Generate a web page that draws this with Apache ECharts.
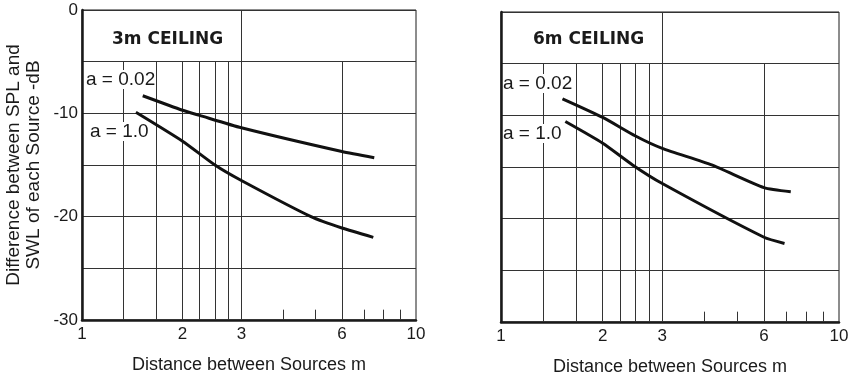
<!DOCTYPE html>
<html>
<head>
<meta charset="utf-8">
<script src="https://cdn.jsdelivr.net/npm/echarts@6/dist/echarts.min.js"></script>
<style>
  html, body { margin: 0; padding: 0; background: #fff; }
  #main { width: 854px; height: 373px; }
</style>
</head>
<body>
<div id="main"></div>
<script>
// distance between sources (m) vs difference SPL - SWL (dB)
var x3_a002 = [1.52, 2, 2.25, 3, 6, 7.5];
var y3_a002 = [-8.3, -9.7, -10.2, -11.4, -13.7, -14.3];
var x3_a1 = [1.45, 2, 2.5, 3, 4.85, 6, 7.45];
var y3_a1 = [-9.9, -12.7, -15.0, -16.5, -20.0, -21.1, -22.0];
var x6_a002 = [1.52, 2, 2.5, 3, 4.2, 6, 7.2];
var y6_a002 = [-8.4, -10.2, -12.0, -13.2, -14.8, -17.0, -17.4];
var x6_a1 = [1.55, 2, 2.45, 3, 6, 6.9];
var y6_a1 = [-10.6, -12.7, -14.8, -16.6, -21.8, -22.4];

var xLabels = [1, 2, 3, 6, 10];
var gridX = [1.33, 1.67, 2, 2.25, 2.5, 2.75, 6]; // these start at -5
var fullX = [3];                                  // full height
var tickX = [4, 5, 7, 8, 9];                      // short ticks on the bottom
var titles = ["3m CEILING", "6m CEILING"];
var seriesNames = ["a = 0.02", "a = 1.0"];

var FONT = "Liberation Sans";
var INK = "#1a1a1a";

function pairs(xs, ys) {
  var out = [];
  for (var i = 0; i < xs.length; i++) out.push([xs[i], ys[i]]);
  return out;
}

function gridMarks() {
  var d = [];
  gridX.forEach(function (x) { d.push([{ coord: [x, -5] }, { coord: [x, -30] }]); });
  fullX.forEach(function (x) { d.push([{ coord: [x, 0] }, { coord: [x, -30] }]); });
  tickX.forEach(function (x) { d.push([{ coord: [x, -29] }, { coord: [x, -30] }]); });
  return {
    silent: true,
    symbol: "none",
    animation: false,
    label: { show: false },
    lineStyle: { type: "solid", color: "#333", width: 1 },
    emphasis: { disabled: true },
    data: d
  };
}

function xAxisFor(idx) {
  return {
    gridIndex: idx,
    type: "log",
    logBase: 10,
    min: 1,
    max: 10,
    name: "Distance between Sources m",
    nameLocation: "middle",
    nameGap: 36,
    nameTextStyle: { fontFamily: FONT, fontSize: 18, color: INK },
    axisLine: { show: true, onZero: false, lineStyle: { color: INK, width: 2.5 } },
    axisTick: { show: false },
    splitLine: { show: false },
    axisLabel: {
      customValues: xLabels,
      fontFamily: FONT, fontSize: 17, color: INK, margin: 6,
      formatter: function (v) { return String(Math.round(v)); }
    }
  };
}

function yAxisFor(idx, showLabels) {
  return {
    gridIndex: idx,
    type: "value",
    min: -30,
    max: 0,
    interval: 5,
    name: showLabels ? "Difference between SPL and\nSWL of each Source -dB" : "",
    nameLocation: "middle",
    nameRotate: 90,
    nameGap: 38,
    nameTextStyle: { fontFamily: FONT, fontSize: 19, color: INK, lineHeight: 20 },
    axisLine: { show: true, lineStyle: { color: INK, width: 2.5 } },
    axisTick: { show: false },
    splitLine: { show: true, lineStyle: { color: "#333", width: 1 } },
    axisLabel: {
      show: showLabels,
      fontFamily: FONT, fontSize: 17, color: INK, margin: 4,
      formatter: function (v) { return v % 10 === 0 ? String(v) : ""; }
    }
  };
}

function lineSeries(name, idx, data, withGrid) {
  var s = {
    name: name,
    type: "line",
    xAxisIndex: idx,
    yAxisIndex: idx,
    data: data,
    showSymbol: false,
    smooth: 0.2,
    lineStyle: { color: "#111", width: 3 },
    z: 5
  };
  if (withGrid) s.markLine = gridMarks();
  return s;
}

var labelStyle = { fontFamily: FONT, fontSize: 19, fill: INK, backgroundColor: "#fff" };
var titleStyle = { fontFamily: "DejaVu Sans", fontSize: 17, fontWeight: "bold", color: INK };

var chart = echarts.init(document.getElementById("main"));
chart.setOption({
  animation: false,
  backgroundColor: "#fff",
  title: [
    { text: titles[0], left: 112, top: 31, padding: 0, textStyle: titleStyle },
    { text: titles[1], left: 533, top: 31, padding: 0, textStyle: titleStyle }
  ],
  grid: [
    { left: 82, right: 438, top: 10, bottom: 53, outerBoundsMode: "none", show: true, borderColor: INK, borderWidth: 1 },
    { left: 501, right: 15, top: 12, bottom: 51, outerBoundsMode: "none", show: true, borderColor: INK, borderWidth: 1 }
  ],
  xAxis: [xAxisFor(0), xAxisFor(1)],
  yAxis: [yAxisFor(0, true), yAxisFor(1, false)],
  series: [
    lineSeries(seriesNames[0], 0, pairs(x3_a002, y3_a002), true),
    lineSeries(seriesNames[1], 0, pairs(x3_a1, y3_a1), false),
    lineSeries(seriesNames[0], 1, pairs(x6_a002, y6_a002), true),
    lineSeries(seriesNames[1], 1, pairs(x6_a1, y6_a1), false)
  ],
  graphic: [
    { type: "text", left: 86, top: 70, z: 10, style: Object.assign({ text: seriesNames[0] }, labelStyle) },
    { type: "text", left: 90, top: 122, z: 10, style: Object.assign({ text: seriesNames[1] }, labelStyle) },
    { type: "text", left: 503, top: 74, z: 10, style: Object.assign({ text: seriesNames[0] }, labelStyle) },
    { type: "text", left: 503, top: 124, z: 10, style: Object.assign({ text: seriesNames[1] }, labelStyle) }
  ]
});
</script>
</body>
</html>
